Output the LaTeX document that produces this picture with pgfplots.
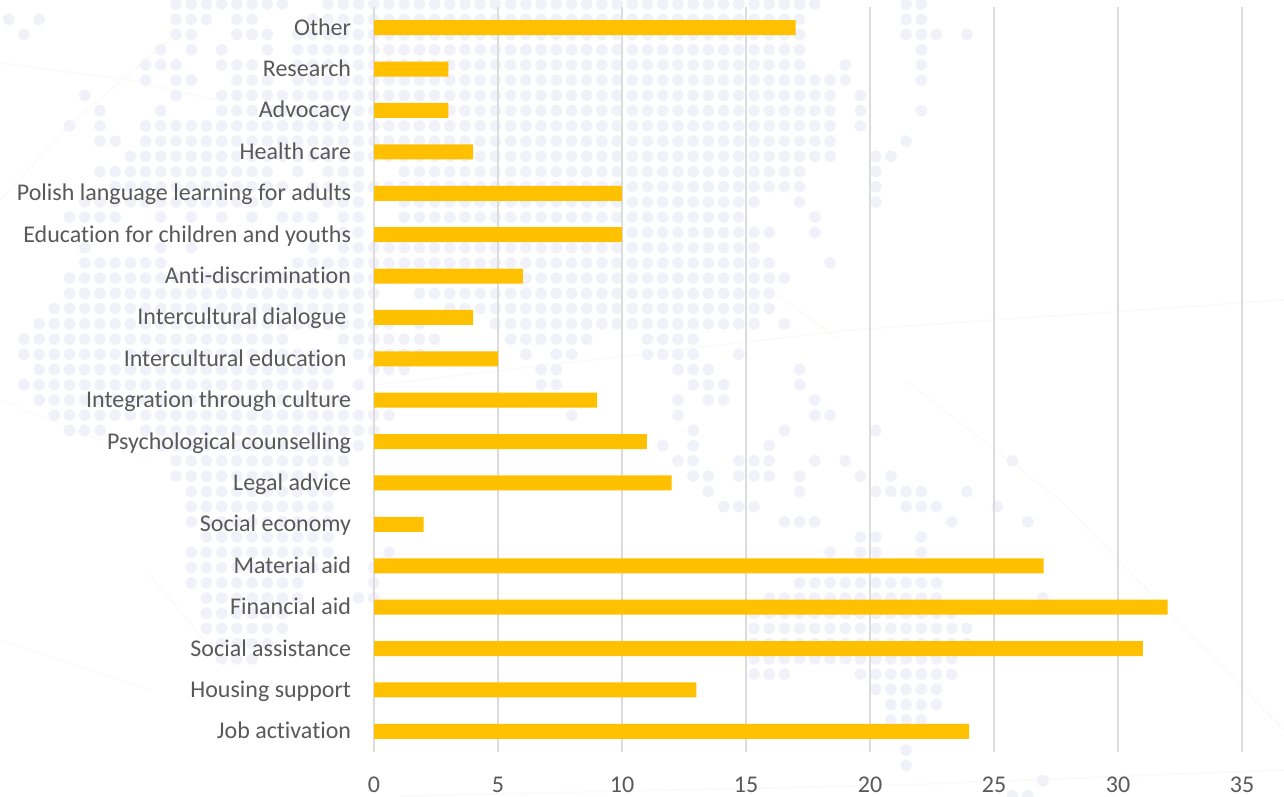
\documentclass[border=0pt]{standalone}
\usepackage{fontspec}
\setmainfont[Ligatures=NoCommon]{Carlito}
\usepackage{pgfplots}
\pgfplotsset{compat=1.18}
\definecolor{dotc}{HTML}{F1F1F9}
\definecolor{linec}{HTML}{FAFAF8}
\definecolor{gridc}{HTML}{DCDCDC}
\definecolor{textc}{HTML}{595959}
\definecolor{barc}{HTML}{FFC000}
\begin{document}
\begin{tikzpicture}
\clip (0pt,0pt) rectangle (963pt,-597pt);
\begin{scope}[x=0.75pt,y=-0.75pt]
% faint background decoration
\draw[linec,line width=1.2pt] (0,63)--(130,80)--(215,100);
\draw[linec,line width=1.2pt] (0,200)--(70,125)--(180,30);
\draw[linec,line width=1.2pt] (150,575)--(225,665);
\draw[linec,line width=1.2pt] (0,400)--(150,460);
\draw[linec,line width=1.2pt] (0,640)--(150,690);
\draw[linec,line width=1.2pt] (375,385)--(850,330)--(1284,300);
\draw[linec,line width=1.2pt] (770,290)--(840,340);
\draw[linec,line width=1.2pt] (905,380)--(1060,500)--(1284,730);
\draw[linec,line width=1.2pt] (400,796)--(900,785)--(1284,770);
% dotted map backdrop: row / first column / last column
\foreach \k/\a/\b in {
0/11/18,0/21/53,0/59/60,
1/0/0,1/2/2,1/11/13,1/15/16,1/20/52,1/59/60,
2/1/1,2/11/12,2/15/17,2/19/52,2/59/61,2/63/63,
3/10/10,3/12/12,3/14/14,3/17/17,3/19/52,3/60/60,
4/9/11,4/14/16,4/19/52,4/55/55,4/60/60,
5/9/9,5/11/12,5/15/17,5/19/55,5/60/60,
6/5/5,6/11/11,6/14/54,6/56/56,
7/6/6,7/10/10,7/14/54,7/56/56,7/60/60,
8/4/4,8/6/6,8/9/54,8/56/56,
9/6/7,9/9/54,9/59/59,
10/8/54,10/57/58,
11/6/17,11/19/19,11/21/23,11/26/52,11/57/57,
12/7/18,12/20/52,12/57/57,
13/5/17,13/21/23,13/26/49,13/52/52,13/57/57,
14/4/7,14/10/10,14/12/12,14/14/14,14/16/16,14/18/20,14/22/23,14/26/48,14/53/53,
15/22/23,15/41/50,15/53/53,
16/5/5,16/10/10,16/12/12,16/20/20,16/22/49,
17/5/10,17/19/50,17/54/54,
18/4/51,
19/4/24,19/27/50,
20/3/23,20/29/50,
21/2/25,21/27/27,21/32/49,21/51/51,
22/1/18,22/22/28,22/33/38,22/42/45,
23/1/20,23/23/27,23/34/34,23/36/37,23/42/45,23/48/48,
24/2/21,24/24/26,24/35/36,24/44/46,24/52/52,
25/1/21,25/23/23,25/35/36,25/45/47,25/52/52,
26/2/22,26/44/44,26/46/47,26/53/53,
27/3/25,27/37/37,27/44/44,27/53/54,
28/4/6,28/9/24,28/45/45,28/51/51,28/57/57,
29/10/23,29/43/43,29/45/45,29/50/50,
30/11/22,30/44/45,30/48/50,30/53/53,30/55/55,30/66/66,
31/11/21,31/45/46,31/48/50,31/52/52,31/56/56,31/58/58,
32/12/21,32/46/46,32/52/52,32/57/60,32/63/63,
33/12/21,33/47/49,33/59/61,33/65/65,
34/12/21,34/51/53,34/62/62,34/67/67,
35/13/21,35/56/57,35/60/60,
36/12/21,36/25/25,36/54/54,36/56/57,36/60/60,
37/12/21,37/24/24,
38/12/19,38/24/24,38/52/61,
39/13/19,39/23/24,39/50/61,39/68/68,
40/13/18,40/49/62,
41/13/18,41/49/63,
42/14/17,42/49/63,
43/14/16,43/49/62,
44/49/51,44/56/62,
45/57/61,
46/58/61,
47/58/60,
49/59/59,
50/59/59,
51/68/68,
52/66/67}{
  \foreach \j in {\a,...,\b}{
    \fill[dotc] ({8.7+15.21*\j},{4+15.23*\k}) circle[radius=5.8];
  }
}
\end{scope}
\begin{axis}[
  at={(280.5pt,-564pt)},anchor=south west,
  scale only axis,width=651pt,height=558.75pt,
  xmin=0,xmax=35,ymin=-0.5,ymax=17.5,
  xtick={0,5,...,35},
  ytick={0,1,...,17},
  yticklabels={Job activation,Housing support,Social assistance,Financial aid,Material aid,Social economy,Legal advice,Psychological counselling,Integration through culture,Intercultural education\kern3.5pt,Intercultural dialogue\kern3.5pt,Anti-discrimination,Education for children and youths,Polish language learning for adults,Health care,Advocacy,Research,Other},
  xmajorgrids,
  major grid style={gridc,line width=1.3pt},
  axis line style={draw=none},
  tick style={draw=none},
  major tick length=0pt,
  /pgf/number format/assume math mode=true,
  tick label style={font=\fontsize{18}{21}\selectfont,text=textc},
  yticklabel style={inner sep=0pt,xshift=-17pt,yshift=-1.6pt,text height=11.5pt,text depth=3.5pt},
  xticklabel style={inner sep=0pt,yshift=-18.5pt},
  xbar,bar width=11.25pt,bar shift=0pt,
  clip=false,
]
\addplot[draw=none,fill=barc] coordinates {
(24,0) (13,1) (31,2) (32,3) (27,4) (2,5) (12,6) (11,7) (9,8) (5,9) (4,10) (6,11) (10,12) (10,13) (4,14) (3,15) (3,16) (17,17)};
\end{axis}
\end{tikzpicture}
\end{document}
